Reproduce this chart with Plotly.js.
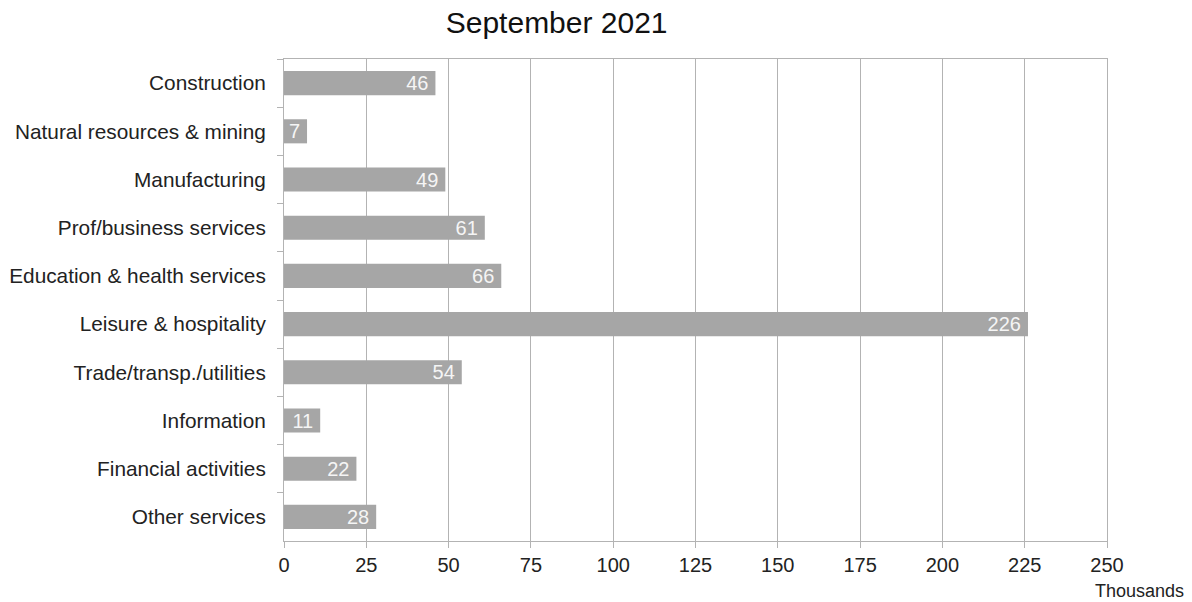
<!DOCTYPE html>
<html>
<head>
<meta charset="utf-8">
<script src="https://cdn.plot.ly/plotly-3.0.1.min.js"></script>
<style>html,body{margin:0;padding:0;background:#fff;}#chart{width:1192px;height:602px;}</style>
</head>
<body>
<div id="chart"></div>
<script>
const categories = ["Construction","Natural resources & mining","Manufacturing","Prof/business services","Education & health services","Leisure & hospitality","Trade/transp./utilities","Information","Financial activities","Other services"];
const values = [46, 7, 49, 61, 66, 226, 54, 11, 22, 28];
const xTicks = [0,25,50,75,100,125,150,175,200,225,250];
const titleText = "September 2021";
const unitLabel = "Thousands";

const font = "Liberation Sans, Arial, sans-serif";
const trace = {
  type: "bar",
  orientation: "h",
  y: categories,
  x: values,
  text: values.map(v => String(v) + "\u2009"),
  textposition: "inside",
  insidetextanchor: "end",
  textangle: 0,
  constraintext: "none",
  textfont: {family: font, size: 20, color: "#f5f5f5"},
  marker: {color: "#a6a6a6", line: {width: 0}},
  hoverinfo: "x+y"
};
const layout = {
  width: 1192, height: 602,
  margin: {l: 284, r: 85, t: 59, b: 61},
  paper_bgcolor: "#fff", plot_bgcolor: "#fff",
  bargap: 0.5,
  showlegend: false,
  font: {family: font, color: "#222"},
  title: {text: titleText, font: {family: font, size: 30, color: "#111"}, xref: "container", x: 0.467, xanchor: "center", yref: "container", y: 0.963, yanchor: "middle"},
  xaxis: {range: [0, 250], tickvals: xTicks, ticktext: xTicks.map(String), showgrid: true, gridcolor: "#b3b3b3", gridwidth: 1,
          showline: true, linecolor: "#b3b3b3", linewidth: 1, mirror: true, ticks: "outside", ticklen: 6, tickcolor: "#b3b3b3",
          tickfont: {family: font, size: 20, color: "#222"}, zeroline: false, fixedrange: true},
  yaxis: {autorange: "reversed", type: "category", tickson: "boundaries", ticks: "outside", ticklen: 6, tickcolor: "#b3b3b3",
          showline: true, linecolor: "#b3b3b3", linewidth: 1, mirror: true, showgrid: false, ticklabelstandoff: 13,
          tickfont: {family: font, size: 20.8, color: "#222"}, fixedrange: true},
  annotations: [{text: unitLabel, xref: "paper", yref: "paper", x: 1.0955, y: -0.104, xanchor: "right", yanchor: "middle", showarrow: false,
                 font: {family: font, size: 18, color: "#222"}}]
};
Plotly.newPlot("chart", [trace], layout, {displayModeBar: false, staticPlot: true});
</script>
</body>
</html>
